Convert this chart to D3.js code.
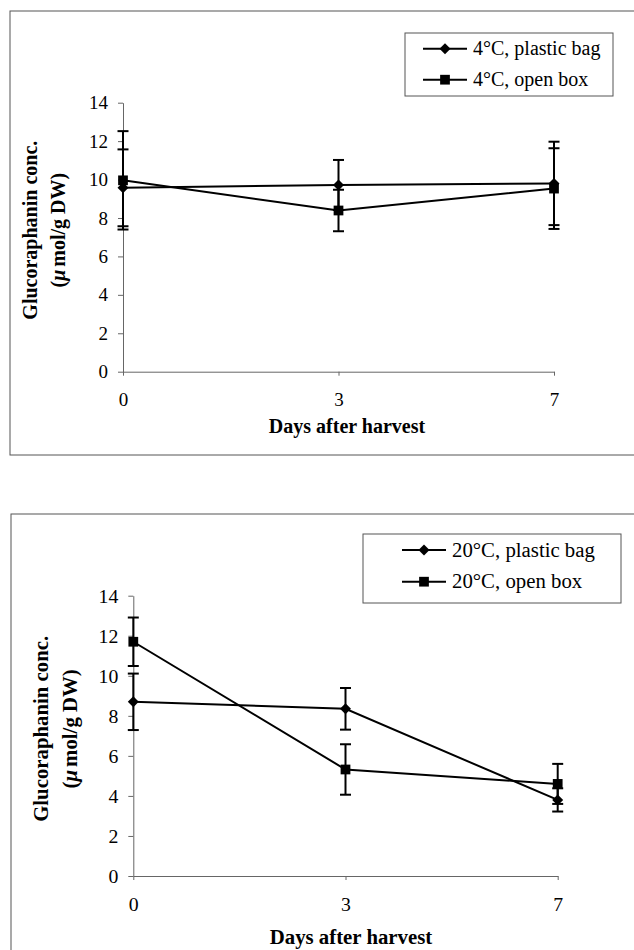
<!DOCTYPE html>
<html>
<head>
<meta charset="utf-8">
<script src="https://cdn.jsdelivr.net/npm/d3@7"></script>
<style>
  body { margin: 0; background: #fff; }
  svg { display: block; font-family: "Liberation Serif", "Times New Roman", serif; }
</style>
</head>
<body>
<div id="chart"><svg width="634" height="950"></svg></div>
<script>
const days = ["0", "3", "7"];
const yTicks = [0, 2, 4, 6, 8, 10, 12, 14];

// 4°C storage
const coldLabels = ["4°C, plastic bag", "4°C, open box"];
const coldBagMean = [9.57, 9.72, 9.8];
const coldBagErr = [2.0, 1.3, 2.17];
const coldBoxMean = [9.96, 8.39, 9.53];
const coldBoxErr = [2.56, 1.08, 2.1];

// 20°C storage
const warmLabels = ["20°C, plastic bag", "20°C, open box"];
const warmBagMean = [8.7, 8.35, 3.8];
const warmBagErr = [1.41, 1.04, 0.58];
const warmBoxMean = [11.7, 5.32, 4.6];
const warmBoxErr = [1.21, 1.26, 1.0];

const xTitle = "Days after harvest";
const yTitle1 = "Glucoraphanin conc.";

const svg = d3.select("#chart").select("svg");

const panels = [
  {
    labels: coldLabels,
    series: [[coldBagMean, coldBagErr], [coldBoxMean, coldBoxErr]],
    frame: [10, 11, 660, 444],
    left: 123, right: 554, top: 102.7, bottom: 371.7,
    legend: { x: 405, y: 33, w: 208, h: 63, lineX: 423, textX: 473, rows: [48.7, 79.7] },
    k: 1, yTitleX: [37, 65], xTitleX: 347, xTitleY: 433,
  },
  {
    labels: warmLabels,
    series: [[warmBagMean, warmBagErr], [warmBoxMean, warmBoxErr]],
    frame: [11, 514, 660, 500],
    left: 133.3, right: 557.7, top: 595.7, bottom: 876,
    legend: { x: 363, y: 534, w: 258, h: 69, lineX: 402, textX: 452, rows: [550, 581.7] },
    k: 1.04, yTitleX: [48, 77], xTitleX: 351, xTitleY: 944,
  },
];

const diamond = d3.symbol().type(d3.symbolSquare).size(60);
const square = d3.symbol().type(d3.symbolSquare).size(95);
const shapes = [
  (g) => g.append("path").attr("d", diamond()).attr("transform", "rotate(45)"),
  (g) => g.append("path").attr("d", square()),
];

panels.forEach(drawPanel);

function drawPanel(p) {
  const g = svg.append("g");
  const tickFont = 19 * p.k;
  const titleFont = 20 * p.k;

  g.append("rect")
    .attr("x", p.frame[0]).attr("y", p.frame[1])
    .attr("width", p.frame[2]).attr("height", p.frame[3])
    .attr("fill", "none").attr("stroke", "#555").attr("stroke-width", 1);

  const x = d3.scalePoint().domain(days).range([p.left, p.right]).padding(0);
  const y = d3.scaleLinear().domain([0, 14]).range([p.bottom, p.top]);

  const yAxis = g.append("g")
    .attr("transform", `translate(${p.left},0)`)
    .call(d3.axisLeft(y).tickValues(yTicks).tickSize(5).tickSizeOuter(0).tickPadding(10));
  const xAxis = g.append("g")
    .attr("transform", `translate(0,${p.bottom})`)
    .call(d3.axisBottom(x).tickSize(4).tickSizeOuter(0).tickPadding(7));

  [yAxis, xAxis].forEach((a) => {
    a.attr("font-family", null).attr("font-size", tickFont);
    a.selectAll("path, line").attr("stroke", "#666").attr("stroke-width", 1);
    a.selectAll("text").attr("fill", "#000");
  });
  xAxis.selectAll("text").attr("dy", "0.71em").attr("y", 20.5 * p.k);

  // axis titles
  g.append("text")
    .attr("x", p.xTitleX).attr("y", p.xTitleY)
    .attr("text-anchor", "middle")
    .attr("font-weight", "bold").attr("font-size", titleFont)
    .text(xTitle);

  const yMid = (p.top + p.bottom) / 2 - 7;
  g.append("text")
    .attr("transform", `translate(${p.yTitleX[0]},${yMid}) rotate(-90)`)
    .attr("text-anchor", "middle")
    .attr("font-weight", "bold").attr("font-size", titleFont)
    .text(yTitle1);
  const t2 = g.append("text")
    .attr("transform", `translate(${p.yTitleX[1]},${yMid}) rotate(-90)`)
    .attr("text-anchor", "middle")
    .attr("font-weight", "bold").attr("font-size", titleFont);
  t2.append("tspan").text("(");
  t2.append("tspan").attr("font-style", "italic").text("μ");
  t2.append("tspan").attr("dx", 3).text("mol/g DW)");

  const line = d3.line().x((d, i) => x(days[i])).y((d) => y(d));

  p.series.forEach(([mean, err]) => {
    const eb = g.append("g").attr("stroke", "#000").attr("stroke-width", 2);
    mean.forEach((m, i) => {
      const cx = x(days[i]);
      const lo = y(m - err[i]);
      const hi = y(m + err[i]);
      eb.append("line").attr("x1", cx).attr("x2", cx).attr("y1", lo).attr("y2", hi);
      eb.append("line").attr("x1", cx - 5.5).attr("x2", cx + 5.5).attr("y1", lo).attr("y2", lo);
      eb.append("line").attr("x1", cx - 5.5).attr("x2", cx + 5.5).attr("y1", hi).attr("y2", hi);
    });
  });

  p.series.forEach(([mean], s) => {
    g.append("path")
      .attr("d", line(mean))
      .attr("fill", "none").attr("stroke", "#000").attr("stroke-width", 2);
    mean.forEach((m, i) => {
      const mk = g.append("g").attr("transform", `translate(${x(days[i])},${y(m)})`);
      shapes[s](mk).attr("fill", "#000");
    });
  });

  // legend
  const L = p.legend;
  g.append("rect")
    .attr("x", L.x).attr("y", L.y).attr("width", L.w).attr("height", L.h)
    .attr("fill", "#fff").attr("stroke", "#555").attr("stroke-width", 1);
  p.labels.forEach((label, s) => {
    const ry = L.rows[s];
    g.append("line")
      .attr("x1", L.lineX).attr("x2", L.lineX + 44)
      .attr("y1", ry).attr("y2", ry)
      .attr("stroke", "#000").attr("stroke-width", 2);
    const mk = g.append("g").attr("transform", `translate(${L.lineX + 22},${ry})`);
    shapes[s](mk).attr("fill", "#000");
    g.append("text")
      .attr("x", L.textX).attr("y", ry + 6.5 * p.k)
      .attr("font-size", 20 * p.k)
      .text(label);
  });
}
</script>
</body>
</html>
